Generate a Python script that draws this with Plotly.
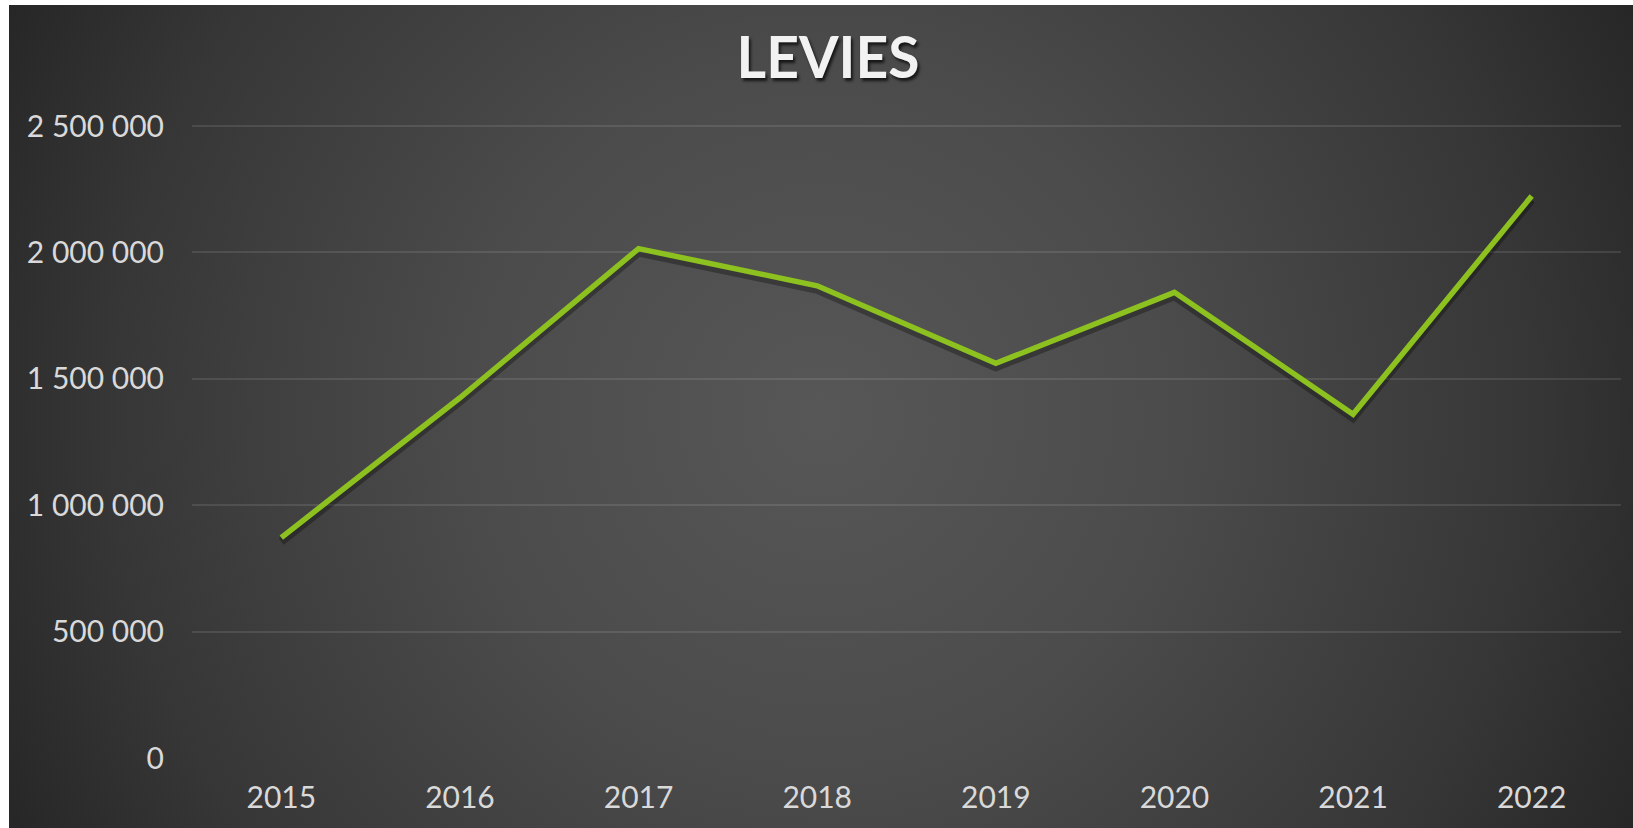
import base64
import plotly.graph_objects as go

years = ["2015", "2016", "2017", "2018", "2019", "2020", "2021", "2022"]
levies = [872000, 1425000, 2015000, 1868000, 1561000, 1842000, 1360000, 2223000]
y_ticks = [0, 500000, 1000000, 1500000, 2000000, 2500000]

W, H = 1633, 828
L, R, T, B = 192, 12, 122, 70
pw, ph = W - L - R, H - T - B
bx0, by0 = 9, 5  # white strips on left / top

bgw, bgh = W - bx0, H - by0
svg = f'''<svg xmlns="http://www.w3.org/2000/svg" width="{bgw}" height="{bgh}" viewBox="0 0 {bgw} {bgh}" preserveAspectRatio="none">
<defs><radialGradient id="g" gradientUnits="userSpaceOnUse" cx="{bgw*0.5}" cy="{bgh*0.5}" r="{0.56*(bgw**2+bgh**2)**0.5}">
<stop offset="0" stop-color="#575757"/><stop offset="0.35" stop-color="#4b4b4b"/><stop offset="0.7" stop-color="#363636"/><stop offset="1" stop-color="#1e1e1e"/>
</radialGradient></defs><rect width="{bgw}" height="{bgh}" fill="url(#g)"/></svg>'''
src = "data:image/svg+xml;base64," + base64.b64encode(svg.encode()).decode()

fig = go.Figure()
# invisible trace so that the main axes (with gridlines and labels) are drawn
fig.add_trace(go.Scatter(x=years, y=levies, mode="lines", opacity=0,
                         line=dict(width=0), hoverinfo="skip", showlegend=False))
# soft shadow (drawn on an overlaid axis shifted a few pixels)
fig.add_trace(go.Scatter(x=years, y=levies, mode="lines", yaxis="y2",
                         line=dict(color="rgba(0,0,0,0.3)", width=8),
                         hoverinfo="skip", showlegend=False))
fig.add_trace(go.Scatter(x=years, y=levies, mode="lines", yaxis="y3",
                         line=dict(color="#8cc11f", width=5.5),
                         showlegend=False))

ymax = 2500000 * ph / 632
shift = 4 / ph * ymax
tf = dict(family="Lato", size=30, color="#d9d9d9")
fig.update_layout(
    width=W, height=H,
    margin=dict(l=L, r=R, t=T, b=B, autoexpand=False),
    paper_bgcolor="white", plot_bgcolor="rgba(0,0,0,0)",
    separators=". ",
    title=dict(text="<b>LEVIES</b>", x=(828 - L) / pw, xref="paper", xanchor="center",
               y=1 - 58 / H, yanchor="middle",
               font=dict(family="Lato", size=57, color="#f2f2f2", shadow="2px 3px 3px rgba(0,0,0,0.7)")),
    xaxis=dict(type="category", range=[-0.5, 7.5], showgrid=False, zeroline=False,
               showline=False, ticks="", tickfont=tf, ticklabelstandoff=19),
    yaxis=dict(range=[0, ymax], tickvals=y_ticks, tickformat=",d", showgrid=True,
               gridcolor="rgba(255,255,255,0.1)", gridwidth=1.5, zeroline=False, showline=False,
               ticks="", tickfont=tf, ticklabelstandoff=27),
    yaxis2=dict(range=[shift, ymax + shift], overlaying="y", visible=False),
    yaxis3=dict(range=[0, ymax], overlaying="y", visible=False),
    images=[dict(source=src, xref="paper", yref="paper",
                 x=(bx0 - L) / pw, y=1 + (T - by0) / ph,
                 sizex=bgw / pw, sizey=bgh / ph, sizing="stretch",
                 xanchor="left", yanchor="top", layer="below")],
)

fig.write_html("out.html")
